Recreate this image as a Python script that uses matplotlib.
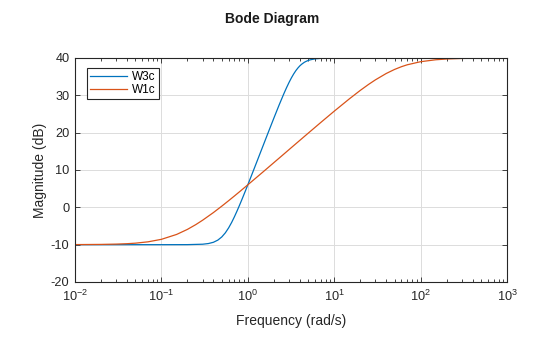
import matplotlib
matplotlib.use("Agg")
import matplotlib.pyplot as plt
from matplotlib.ticker import LogLocator, FixedLocator, NullFormatter

plt.rcParams['font.family'] = ['Liberation Sans', 'DejaVu Sans']
plt.rcParams['mathtext.fontset'] = 'custom'
plt.rcParams['mathtext.rm'] = 'Liberation Sans'
plt.rcParams['mathtext.it'] = 'Liberation Sans'
plt.rcParams['axes.unicode_minus'] = False

# W3c magnitude (dB)
w3_freq = [0.01, 0.05, 0.1, 0.2, 0.3, 0.35, 0.4, 0.45, 0.5, 0.55, 0.6, 0.65, 0.7, 0.75,
           0.8, 0.85, 0.9, 0.95, 1.0, 1.1, 1.2, 1.3, 1.4, 1.5, 1.7, 2.0, 2.3, 2.6, 2.8,
           3.0, 3.2, 3.4, 3.6, 3.8, 4.0, 4.2, 4.5, 4.7, 5.0, 5.3, 6.0, 7.0, 8.5, 10, 20,
           100, 1000]
w3_mag = [-10.0, -10.0, -10.0, -9.99, -9.88, -9.70, -9.36, -8.78, -7.93, -6.82, -5.50,
          -4.05, -2.53, -1.00, 0.50, 1.96, 3.37, 4.72, 6.02, 8.45, 10.69, 12.76, 14.68,
          16.46, 19.70, 23.86, 27.37, 30.31, 31.99, 33.45, 34.70, 35.75, 36.62, 37.32,
          37.89, 38.33, 38.83, 39.07, 39.34, 39.52, 39.77, 39.91, 39.97, 39.99, 40.0,
          40.0, 40.0]

# W1c magnitude (dB)
w1_freq = [0.01, 0.02, 0.03, 0.04, 0.05, 0.07, 0.1, 0.15, 0.2, 0.25, 0.3, 0.4, 0.5, 0.6,
           0.7, 0.8, 1.0, 1.2, 1.5, 2.0, 2.5, 3.0, 4.0, 5.0, 7.0, 10, 15, 20, 25, 30, 40,
           50, 60, 70, 100, 150, 200, 300, 500, 1000]
w1_mag = [-9.98, -9.93, -9.85, -9.74, -9.60, -9.24, -8.57, -7.26, -5.91, -4.63, -3.45,
          -1.40, 0.32, 1.78, 3.04, 4.15, 6.03, 7.58, 9.48, 11.96, 13.88, 15.46, 17.94,
          19.86, 22.74, 25.75, 29.07, 31.31, 32.93, 34.15, 35.85, 36.94, 37.67, 38.18,
          39.01, 39.53, 39.73, 39.88, 39.96, 39.99]

series_names = ['W3c', 'W1c']
series_colors = ['#0072BD', '#D95319']
y_ticks = [-20, -10, 0, 10, 20, 30, 40]

fig = plt.figure(figsize=(5.6, 3.37), dpi=100)
ax = fig.add_axes([75/560, 1-282/337, (507-75)/560, (282-58)/337])

ax.semilogx(w3_freq, w3_mag, color=series_colors[0], lw=0.9, label=series_names[0])
ax.semilogx(w1_freq, w1_mag, color=series_colors[1], lw=0.9, label=series_names[1])

ax.set_xlim(1e-2, 1e3)
ax.set_ylim(-20, 40)
ax.yaxis.set_major_locator(FixedLocator(y_ticks))
ax.xaxis.set_major_locator(LogLocator(base=10, numticks=20))
ax.xaxis.set_minor_locator(LogLocator(base=10, subs=range(2, 10), numticks=20))
ax.xaxis.set_minor_formatter(NullFormatter())

ax.grid(True, which='major', color='#dcdcdc', lw=0.7)
ax.set_axisbelow(True)
for s in ax.spines.values():
    s.set_color('#262626')
    s.set_linewidth(0.8)
ax.tick_params(which='both', direction='in', top=True, right=True, colors='#262626',
               labelsize=9.2, width=0.6)
ax.tick_params(which='major', length=3.5)
ax.tick_params(which='minor', length=2)
ax.tick_params(axis='x', pad=5)
ax.tick_params(axis='y', pad=4)

ax.set_xlabel('Frequency (rad/s)', fontsize=10, color='#262626', labelpad=7)
ax.set_ylabel('Magnitude (dB)', fontsize=10, color='#262626', labelpad=3)
fig.text(272/560, 1-19/337, 'Bode Diagram', ha='center', va='center',
         fontsize=10, fontweight='bold', color='#1a1a1a')

leg = ax.legend(loc='upper left', bbox_to_anchor=(0.027, 0.955), fontsize=8.5,
                frameon=True, fancybox=False, edgecolor='#262626', framealpha=1,
                handlelength=3.2, handletextpad=0.4, borderpad=0.25, labelspacing=0.1,
                borderaxespad=0)
leg.get_frame().set_linewidth(0.8)

fig.savefig('out.png', dpi=100)
